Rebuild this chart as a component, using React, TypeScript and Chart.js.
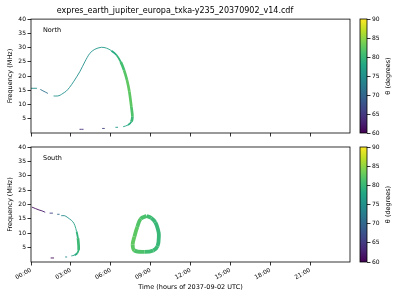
import React, { useEffect, useRef } from 'react';
import { Chart, registerables } from 'chart.js';
Chart.register(...registerables);

const TITLE = 'expres_earth_jupiter_europa_txka-y235_20370902_v14.cdf';
const X_LABEL = 'Time (hours of 2037-09-02 UTC)';
const Y_LABEL = 'Frequency (MHz)';
const CB_LABEL = 'θ (degrees)';
const X_TICKS = [0, 3, 6, 9, 12, 15, 18, 21];
const Y_TICKS = [5, 10, 15, 20, 25, 30, 35, 40];
const CB_TICKS = [60, 65, 70, 75, 80, 85, 90];

// North hemisphere
const northHour = [0, 0.45, null, 0.7, 0.9, 1.07, 1.27, null, 1.7, 2.0, 2.2, 2.4, 2.65, 2.9, 3.2, 3.67, 4.05, 4.43, 4.8, 5.3, 5.68, 6.05, 6.43, 6.75, 7.0, 7.22, 7.4, 7.55, 7.63, 7.55, 7.3, 6.93, null, 6.55, 6.35, null, 5.35, 5.55, null, 3.65, 3.95];
const northFreq = [15.7, 15.7, null, 15.3, 14.8, 14.4, 13.9, null, 13.0, 13.0, 13.3, 13.9, 14.7, 16.0, 18.0, 21.5, 25.0, 28.0, 29.4, 30.1, 29.8, 28.9, 27.4, 25.0, 22.1, 18.6, 14.5, 9.2, 5.7, 4.0, 2.8, 2.2, null, 2.0, 2.0, null, 1.6, 1.6, null, 1.3, 1.3];
const northTheta = [75, 75, null, 71, 71, 71, 71, null, 75, 75, 75, 75, 75, 75, 75, 75, 75, 75, 75.5, 76, 76.5, 77.5, 79, 80.5, 81.5, 82.5, 82.5, 82, 81, 79.5, 78, 77, null, 76, 76, null, 66, 66, null, 64, 64];

// South hemisphere
const southHour = [0.07, 0.6, 0.82, 1.07, null, 1.4, 1.65, null, 1.97, 2.15, null, 2.27, 2.53, 2.72, 2.9, 3.15, 3.3, 3.43, 3.53, 3.58, 3.58, 3.47, 3.28, 3.03, null, 2.72, 2.57, null, 1.48, 1.73];
const southFreq = [19.1, 18.1, 17.8, 17.3, null, 17.0, 17.0, null, 16.6, 16.6, null, 16.1, 16.1, 15.6, 15.0, 14.0, 12.7, 10.6, 8.3, 5.9, 4.2, 3.0, 2.4, 2.1, null, 1.75, 1.75, null, 1.4, 1.4];
const southTheta = [61, 61, 62, 63, null, 66, 66, null, 70, 70, null, 74, 74, 75, 75.5, 76, 77, 78.5, 80, 80.5, 80, 79, 77.5, 76, null, 74, 74, null, 61, 61];

const loopHour = [8.7, 9.05, 9.35, 9.55, 9.62, 9.52, 9.2, 8.55, 7.78, 7.65, 7.78, 8.0, 8.25, 8.7];
const loopFreq = [16.0, 15.3, 13.8, 11.3, 9.4, 5.5, 4.0, 3.5, 4.0, 6.0, 8.8, 12.2, 15.0, 16.0];
const loopTheta = [81, 80.5, 80, 80, 80, 80, 80.5, 81, 82, 82.5, 82.5, 82, 81.5, 81];

const FONT = 'DejaVu Sans';
Chart.defaults.font.family = FONT;
Chart.defaults.color = '#000';

const VIRIDIS = ['#440154', '#482475', '#414487', '#355f8d', '#2a788e', '#21918c', '#22a884', '#44bf70', '#7ad151', '#bddf26', '#fde725'];

function hexToRgb(h: string) {
  return [parseInt(h.slice(1, 3), 16), parseInt(h.slice(3, 5), 16), parseInt(h.slice(5, 7), 16)];
}
function viridis(theta: number) {
  let t = (theta - 60) / 30;
  t = Math.max(0, Math.min(1, t));
  const p = t * (VIRIDIS.length - 1);
  const i = Math.min(VIRIDIS.length - 2, Math.floor(p));
  const f = p - i;
  const a = hexToRgb(VIRIDIS[i]);
  const b = hexToRgb(VIRIDIS[i + 1]);
  const c = a.map((v, k) => Math.round(v + (b[k] - v) * f));
  return `rgb(${c[0]},${c[1]},${c[2]})`;
}
function widthFor(theta: number) {
  if (theta >= 80) return 2.7;
  if (theta >= 78) return 1.8;
  return 0.9;
}

function lineDataset(hours: (number | null)[], freqs: (number | null)[], thetas: (number | null)[], tension: number, fixedWidth?: number) {
  const th = (i: number) => {
    const v = thetas[i];
    return v == null ? 75 : v;
  };
  return {
    data: hours.map((h, i) => ({ x: h == null ? 0 : h, y: freqs[i] })),
    pointRadius: 0,
    pointHoverRadius: 0,
    tension,
    spanGaps: false,
    borderColor: viridis(th(0)),
    borderWidth: fixedWidth ?? 0.9,
    borderCapStyle: 'butt',
    borderJoinStyle: 'round',
    segment: {
      borderColor: (ctx: any) => viridis((th(ctx.p0DataIndex) + th(ctx.p1DataIndex)) / 2),
      borderWidth: (ctx: any) => fixedWidth ?? widthFor((th(ctx.p0DataIndex) + th(ctx.p1DataIndex)) / 2),
    },
  };
}

const pad2 = (v: number) => (v < 10 ? '0' + v : '' + v);

function mainOptions(showX: boolean, title: string | null, note: string, padTop: number): any {
  const frame = {
    id: 'frame',
    afterDraw(chart: any) {
      const { ctx, chartArea: a } = chart;
      ctx.save();
      ctx.strokeStyle = '#000';
      ctx.lineWidth = 0.8;
      ctx.strokeRect(a.left, a.top, a.right - a.left, a.bottom - a.top);
      ctx.fillStyle = '#000';
      ctx.font = `6.5px "${FONT}"`;
      ctx.textBaseline = 'middle';
      ctx.textAlign = 'left';
      ctx.fillText(note, a.left + 12, a.top + 11);
      ctx.restore();
    },
  };
  return {
    plugin: frame,
    options: {
      animation: false,
      responsive: false,
      events: [],
      layout: { padding: { left: 0, right: 50, top: padTop, bottom: 0 } },
      plugins: {
        legend: { display: false },
        tooltip: { enabled: false },
        title: title
          ? { display: true, text: title, font: { size: 8, weight: 'normal' }, color: '#000', padding: { top: 6.5, bottom: 3 } }
          : { display: false },
      },
      scales: {
        x: {
          type: 'linear',
          min: 0,
          max: 24,
          afterBuildTicks: (s: any) => { s.ticks = X_TICKS.map((v) => ({ value: v })); },
          afterFit: (s: any) => { s.height = showX ? 38 : 7; },
          grid: { drawOnChartArea: false, drawTicks: true, tickLength: 3.5, color: '#000', lineWidth: 0.8 },
          border: { display: false },
          ticks: {
            display: showX,
            autoSkip: false,
            minRotation: 30,
            maxRotation: 30,
            padding: 1,
            font: { size: 6 },
            color: '#000',
            callback: (v: any) => pad2(Number(v)) + ':00',
          },
          title: { display: showX, text: X_LABEL, font: { size: 6.5 }, color: '#000', padding: { top: 0, bottom: 9 } },
        },
        y: {
          type: 'linear',
          min: 0,
          max: 40,
          afterBuildTicks: (s: any) => { s.ticks = Y_TICKS.map((v) => ({ value: v })); },
          afterFit: (s: any) => { s.width = 31; },
          grid: { drawOnChartArea: false, drawTicks: true, tickLength: 3.5, color: '#000', lineWidth: 0.8 },
          border: { display: false },
          ticks: { padding: 1.5, font: { size: 6 }, color: '#000' },
          title: { display: true, text: Y_LABEL, font: { size: 6.5 }, color: '#000', padding: { top: 6, bottom: 0 } },
        },
      },
    },
  };
}

function colorbarConfig(padTop: number, padBottom: number): any {
  const cb = {
    id: 'cb',
    beforeDraw(chart: any) {
      const { ctx, chartArea: a } = chart;
      const g = ctx.createLinearGradient(0, a.bottom, 0, a.top);
      VIRIDIS.forEach((c, i) => g.addColorStop(i / (VIRIDIS.length - 1), c));
      ctx.save();
      ctx.fillStyle = g;
      ctx.fillRect(a.left, a.top, a.right - a.left, a.bottom - a.top);
      ctx.strokeStyle = '#000';
      ctx.lineWidth = 0.8;
      ctx.strokeRect(a.left, a.top, a.right - a.left, a.bottom - a.top);
      ctx.restore();
    },
    afterDraw(chart: any) {
      const { ctx, chartArea: a } = chart;
      ctx.save();
      ctx.translate(a.right + 21, (a.top + a.bottom) / 2);
      ctx.rotate(-Math.PI / 2);
      ctx.fillStyle = '#000';
      ctx.font = `6.5px "${FONT}"`;
      ctx.textAlign = 'center';
      ctx.textBaseline = 'middle';
      ctx.fillText(CB_LABEL, 0, 0);
      ctx.restore();
    },
  };
  return {
    type: 'scatter',
    data: { datasets: [] },
    plugins: [cb],
    options: {
      animation: false,
      responsive: false,
      events: [],
      layout: { padding: { left: 20, right: 0, top: padTop, bottom: padBottom } },
      plugins: { legend: { display: false }, tooltip: { enabled: false } },
      scales: {
        x: { display: false, min: 0, max: 1 },
        y: {
          position: 'right',
          min: 60,
          max: 90,
          afterBuildTicks: (s: any) => { s.ticks = CB_TICKS.map((v) => ({ value: v })); },
          afterFit: (s: any) => { s.width = 33; },
          grid: { drawOnChartArea: false, drawTicks: true, tickLength: 3.5, color: '#000', lineWidth: 0.8 },
          border: { display: false },
          ticks: { padding: 1.5, font: { size: 6 }, color: '#000' },
        },
      },
    },
  };
}

export default function App() {
  const topRef = useRef<HTMLCanvasElement>(null);
  const botRef = useRef<HTMLCanvasElement>(null);
  const cbTopRef = useRef<HTMLCanvasElement>(null);
  const cbBotRef = useRef<HTMLCanvasElement>(null);

  useEffect(() => {
    const charts: Chart[] = [];
    const top = mainOptions(false, TITLE, 'North', 0);
    charts.push(new Chart(topRef.current!, {
      type: 'line',
      data: { datasets: [lineDataset(northHour, northFreq, northTheta, 0.3) as any] },
      options: top.options,
      plugins: [top.plugin],
    }));
    const bot = mainOptions(true, null, 'South', 7);
    charts.push(new Chart(botRef.current!, {
      type: 'line',
      data: {
        datasets: [
          lineDataset(southHour, southFreq, southTheta, 0.3) as any,
          lineDataset(loopHour, loopFreq, loopTheta, 0.4, 3.8) as any,
        ],
      },
      options: bot.options,
      plugins: [bot.plugin],
    }));
    charts.push(new Chart(cbTopRef.current!, colorbarConfig(19, 7)));
    charts.push(new Chart(cbBotRef.current!, colorbarConfig(7, 38)));
    return () => charts.forEach((c) => c.destroy());
  }, []);

  const abs = (left: number, top: number, w: number, h: number): React.CSSProperties => ({
    position: 'absolute', left, top, width: w, height: h, display: 'block',
  });

  return (
    <div style={{ position: 'fixed', left: 0, top: 0, width: 400, height: 300, background: '#fff' }}>
      <canvas ref={topRef} width={400} height={140} style={abs(0, 0, 400, 140)} />
      <canvas ref={botRef} width={400} height={160} style={abs(0, 140, 400, 160)} />
      <canvas ref={cbTopRef} width={60} height={140} style={abs(340, 0, 60, 140)} />
      <canvas ref={cbBotRef} width={60} height={160} style={abs(340, 140, 60, 160)} />
    </div>
  );
}
